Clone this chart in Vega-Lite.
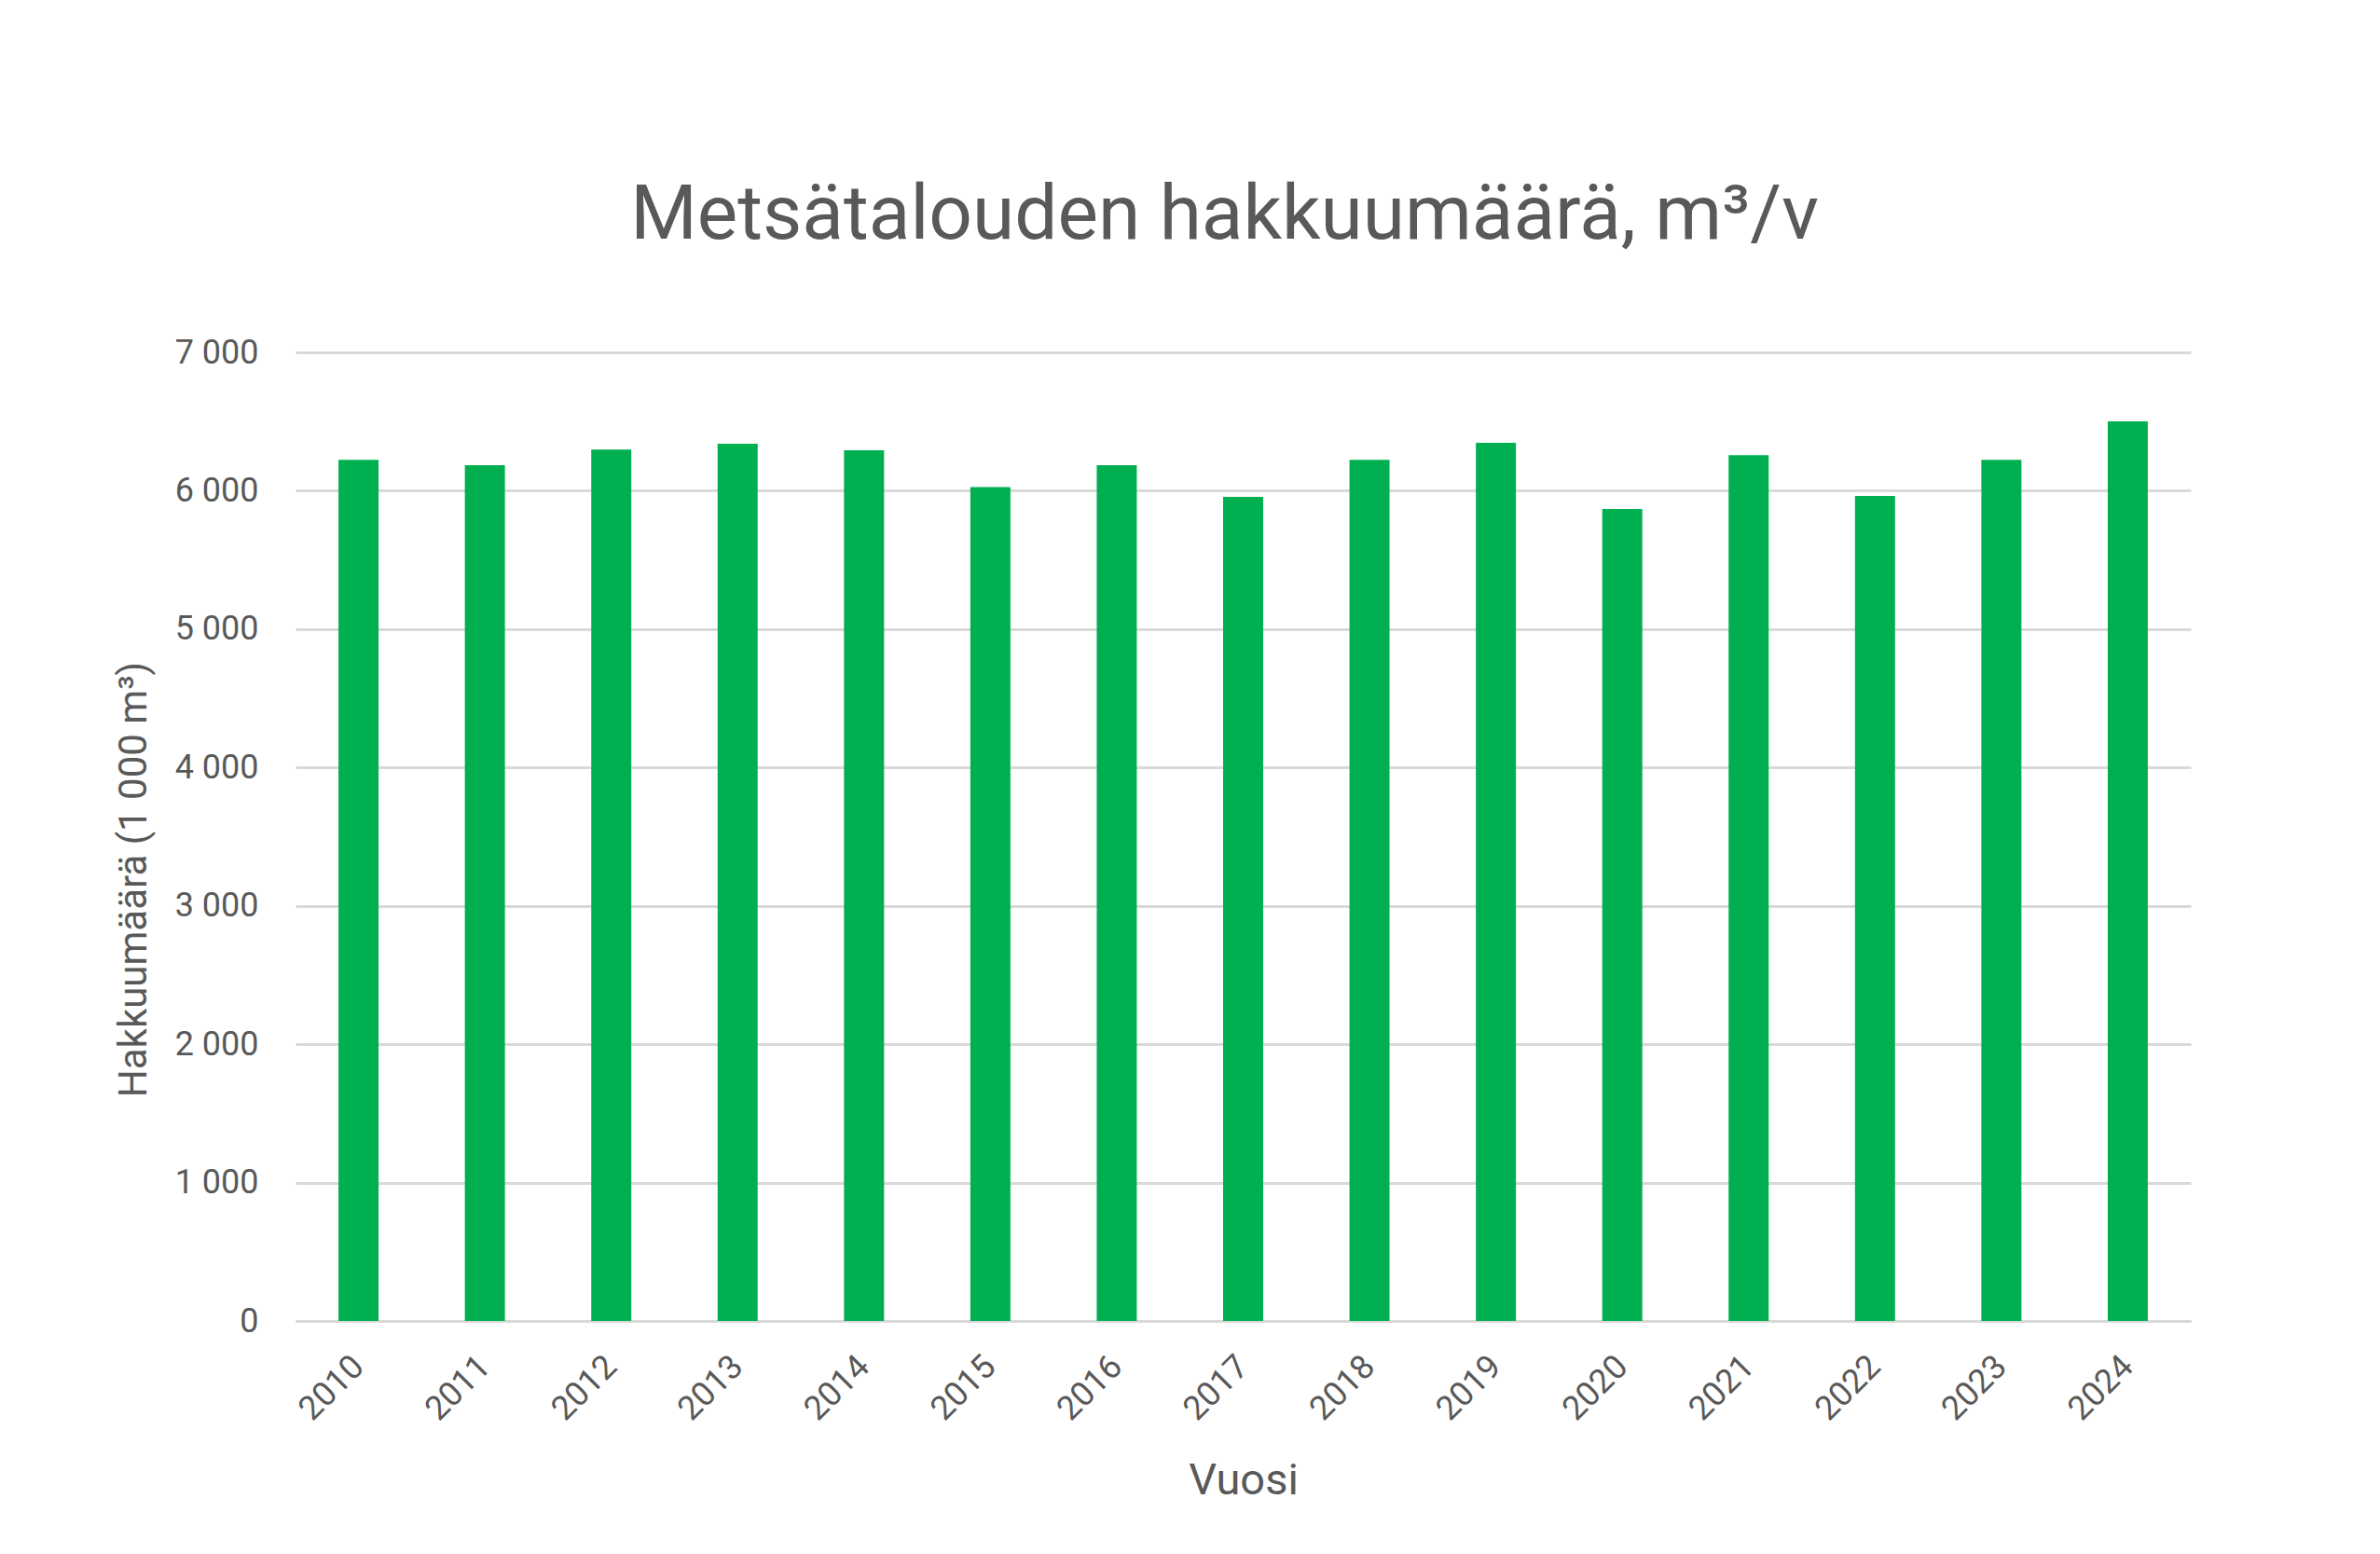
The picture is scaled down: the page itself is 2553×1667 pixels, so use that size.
{
  "$schema": "https://vega.github.io/schema/vega-lite/v6.json",
  "width": 2033,
  "height": 1039,
  "autosize": {"type": "none"},
  "padding": {"left": 317, "top": 378, "right": 203, "bottom": 250},
  "background": "white",
  "title": {
    "text": "Metsätalouden hakkuumäärä, m³/v",
    "font": "Roboto",
    "fontSize": 82,
    "fontWeight": "normal",
    "color": "#595959",
    "anchor": "middle",
    "frame": "group",
    "baseline": "alphabetic",
    "offset": 22,
    "dx": -20
  },
  "data": {
    "values": [
      {"vuosi": "2010", "hakkuu": 6224},
      {"vuosi": "2011", "hakkuu": 6184},
      {"vuosi": "2012", "hakkuu": 6298},
      {"vuosi": "2013", "hakkuu": 6339},
      {"vuosi": "2014", "hakkuu": 6292},
      {"vuosi": "2015", "hakkuu": 6027},
      {"vuosi": "2016", "hakkuu": 6184},
      {"vuosi": "2017", "hakkuu": 5955},
      {"vuosi": "2018", "hakkuu": 6224},
      {"vuosi": "2019", "hakkuu": 6346},
      {"vuosi": "2020", "hakkuu": 5868},
      {"vuosi": "2021", "hakkuu": 6258},
      {"vuosi": "2022", "hakkuu": 5962},
      {"vuosi": "2023", "hakkuu": 6224},
      {"vuosi": "2024", "hakkuu": 6501}
    ]
  },
  "mark": {"type": "bar", "color": "#00B050"},
  "encoding": {
    "x": {
      "field": "vuosi",
      "type": "ordinal",
      "scale": {"paddingInner": 0.683, "paddingOuter": 0.34},
      "axis": {
        "title": "Vuosi",
        "titleFont": "Roboto",
        "titleFontSize": 47,
        "titleFontWeight": "normal",
        "titleColor": "#595959",
        "titlePadding": 36,
        "labelAngle": -45,
        "labelAlign": "right",
        "labelBaseline": "middle",
        "labelFont": "Roboto",
        "labelFontSize": 36,
        "labelColor": "#595959",
        "labelPadding": 43,
        "ticks": false,
        "domainColor": "#d9d9d9",
        "domainWidth": 3
      }
    },
    "y": {
      "field": "hakkuu",
      "type": "quantitative",
      "scale": {"domain": [0, 7000]},
      "axis": {
        "title": "Hakkuumäärä (1 000 m³)",
        "titleFont": "Roboto",
        "titleFontSize": 42,
        "titleFontWeight": "normal",
        "titleColor": "#595959",
        "titlePadding": 22,
        "titleY": 565,
        "values": [0, 1000, 2000, 3000, 4000, 5000, 6000, 7000],
        "format": ",d",
        "labelExpr": "replace(datum.label, ',', ' ')",
        "labelFont": "Roboto",
        "labelFontSize": 36,
        "labelColor": "#595959",
        "labelPadding": 40,
        "ticks": false,
        "domain": false,
        "gridColor": "#d9d9d9",
        "gridWidth": 3
      }
    }
  },
  "config": {
    "view": {"stroke": null}
  }
}
